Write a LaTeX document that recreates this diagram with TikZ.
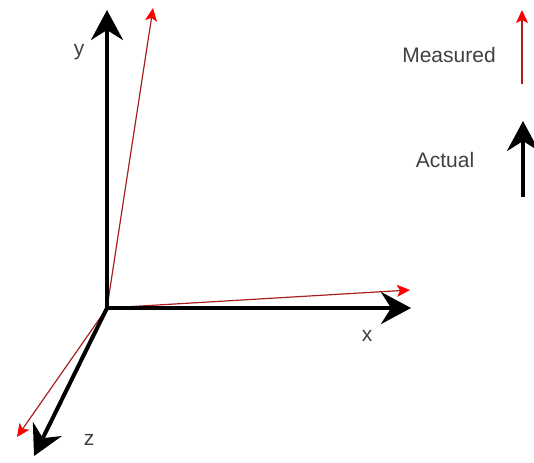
\documentclass[tikz,border=0pt]{standalone}
\usepackage{fontspec}
\setmainfont{Liberation Sans}
\usepackage{xcolor}
\usetikzlibrary{arrows.meta, positioning}
\definecolor{measred}{RGB}{170,30,30}
\tikzset{
  actual/.style={line width=2pt, black, -{Stealth[length=15pt, width=16pt, inset=5pt]}},
  measured/.style={line width=0.6pt, measred, -{Stealth[length=6.5pt, width=6pt, inset=1.5pt, red]}},
  axlabel/.style={font=\fontsize{10.5}{12}\selectfont, text=black!75, inner sep=0pt}
}
\begin{document}
\begin{tikzpicture}[x=0.5pt, y=-0.5pt]
  \useasboundingbox (0,0) rectangle (534,462);

  % Origin and axis tips
  \coordinate (O) at (107,308);
  \coordinate (yact) at (107,10);
  \coordinate (xact) at (411,308);
  \coordinate (zact) at (34,456);
  \coordinate (ymeas) at (153,8);
  \coordinate (xmeas) at (410,290);
  \coordinate (zmeas) at (17,437);

  % Measured axes (red, behind)
  \draw[measured] (O) -- (ymeas);
  \draw[measured] (O) -- (xmeas);
  \draw[measured] (O) -- (zmeas);

  % Actual axes (black)
  \draw[actual] (O) -- (yact);
  \draw[actual] (O) -- (xact);
  \draw[actual] (O) -- (zact);

  % Axis labels
  \node[axlabel] (ylab) at (79,52) {y};
  \node[axlabel] (xlab) at (367,336) {x};
  \node[axlabel] (zlab) at (89,440) {z};

  % Legend
  \node[axlabel] (measlab) at (449,55) {Measured};
  \node[axlabel] (actlab) at (445,160) {Actual};
  \coordinate (lm1) at (522,84);
  \coordinate (lm2) at (522,10);
  \coordinate (la1) at (523,197);
  \coordinate (la2) at (523,121);
  \draw[measured] (lm1) -- (lm2);
  \draw[actual] (la1) -- (la2);
\end{tikzpicture}
\end{document}
